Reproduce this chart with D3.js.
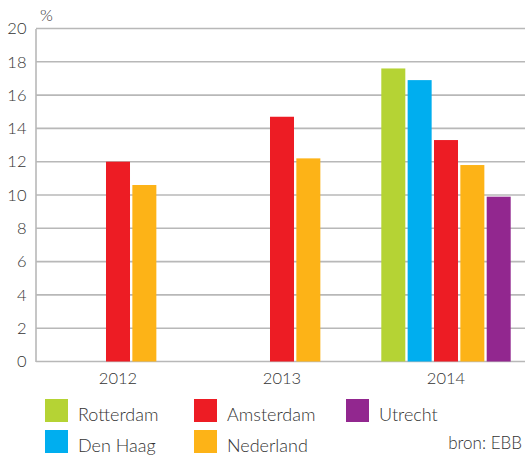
<!DOCTYPE html>
<html><head><meta charset="utf-8">
<script src="https://cdn.jsdelivr.net/npm/d3@7"></script>
<style>body{margin:0;background:#fff}svg{display:block}text{font-family:Lato,"Open Sans",sans-serif;fill:#333}</style>
</head><body><svg id="c" width="525" height="455"></svg>
<script>
const years = ["2012","2013","2014"];
const seriesNames = ["Rotterdam","Den Haag","Amsterdam","Nederland","Utrecht"];
const seriesColors = ["#b5d334","#00aeef","#ed1c24","#fdb317","#92278f"];
const rotterdam = [null, null, 17.6];
const denHaag   = [null, null, 16.9];
const amsterdam = [12.0, 14.7, 13.3];
const nederland = [10.6, 12.2, 11.8];
const utrecht   = [null, null, 9.9];
const yTicks = [0,2,4,6,8,10,12,14,16,18,20];
const unitLabel = "%";
const sourceLabel = "bron: EBB";

const values = [rotterdam, denHaag, amsterdam, nederland, utrecht];
const svg = d3.select("#c");
const x0 = d3.scaleBand().domain(years).range([36, 528]).padding(0);
const x1 = d3.scaleBand().domain(seriesNames).range([17.3, 146.7]).paddingInner(0.089).paddingOuter(0);
const y = d3.scaleLinear().domain([0, 20]).range([361.5, 28.5]);

// grid
svg.append("g").selectAll("line").data(yTicks).join("line")
  .attr("x1", 36).attr("x2", 525)
  .attr("y1", d => y(d)).attr("y2", d => y(d))
  .attr("stroke", "#b8b8b8").attr("stroke-width", 1.6);

// y axis
const yAxis = d3.axisLeft(y).tickValues(yTicks).tickSize(0).tickPadding(9);
const ga = svg.append("g").attr("transform", "translate(35.5,0)").call(yAxis);
ga.select(".domain").attr("stroke", "#b8b8b8").attr("stroke-width", 1.6);
ga.selectAll("text").attr("font-size", 16.5).attr("font-family", "Lato, sans-serif").attr("font-weight", 300).style("fill","#333");

svg.append("text").attr("x", 40).attr("y", 21).attr("font-size", 16.5).attr("font-weight", 300).text(unitLabel);

// x axis
const xAxis = d3.axisBottom(x0).tickSize(0).tickPadding(11);
const gx = svg.append("g").attr("transform", "translate(0,361.5)").call(xAxis);
gx.select(".domain").remove();
gx.selectAll("text").attr("font-size", 16.5).attr("font-family", "Lato, sans-serif").attr("font-weight", 300).style("fill","#333");

// bars
const data = [];
years.forEach((yr, i) => seriesNames.forEach((s, j) => {
  const v = values[j][i];
  if (v != null) data.push({yr, s, v, c: seriesColors[j]});
}));
svg.append("g").selectAll("rect").data(data).join("rect")
  .attr("x", d => x0(d.yr) + x1(d.s))
  .attr("width", x1.bandwidth())
  .attr("y", d => y(d.v))
  .attr("height", d => y(0) - y(d.v))
  .attr("fill", d => d.c);

// legend
const legendPos = [[45,399],[45,430],[194,399],[194,430],[346,399]];
const lg = svg.append("g").selectAll("g").data(seriesNames).join("g")
  .attr("transform", (d, i) => `translate(${legendPos[i][0]},${legendPos[i][1]})`);
lg.append("rect").attr("width", 23).attr("height", 23).attr("fill", (d, i) => seriesColors[i]);
lg.append("text").attr("x", 33).attr("y", 22.3).attr("font-size", 18).attr("font-weight", 300).text(d => d);

svg.append("text").attr("x", 522).attr("y", 448.5).attr("text-anchor", "end").attr("font-size", 17).attr("font-weight", 300).text(sourceLabel);
</script></body></html>
